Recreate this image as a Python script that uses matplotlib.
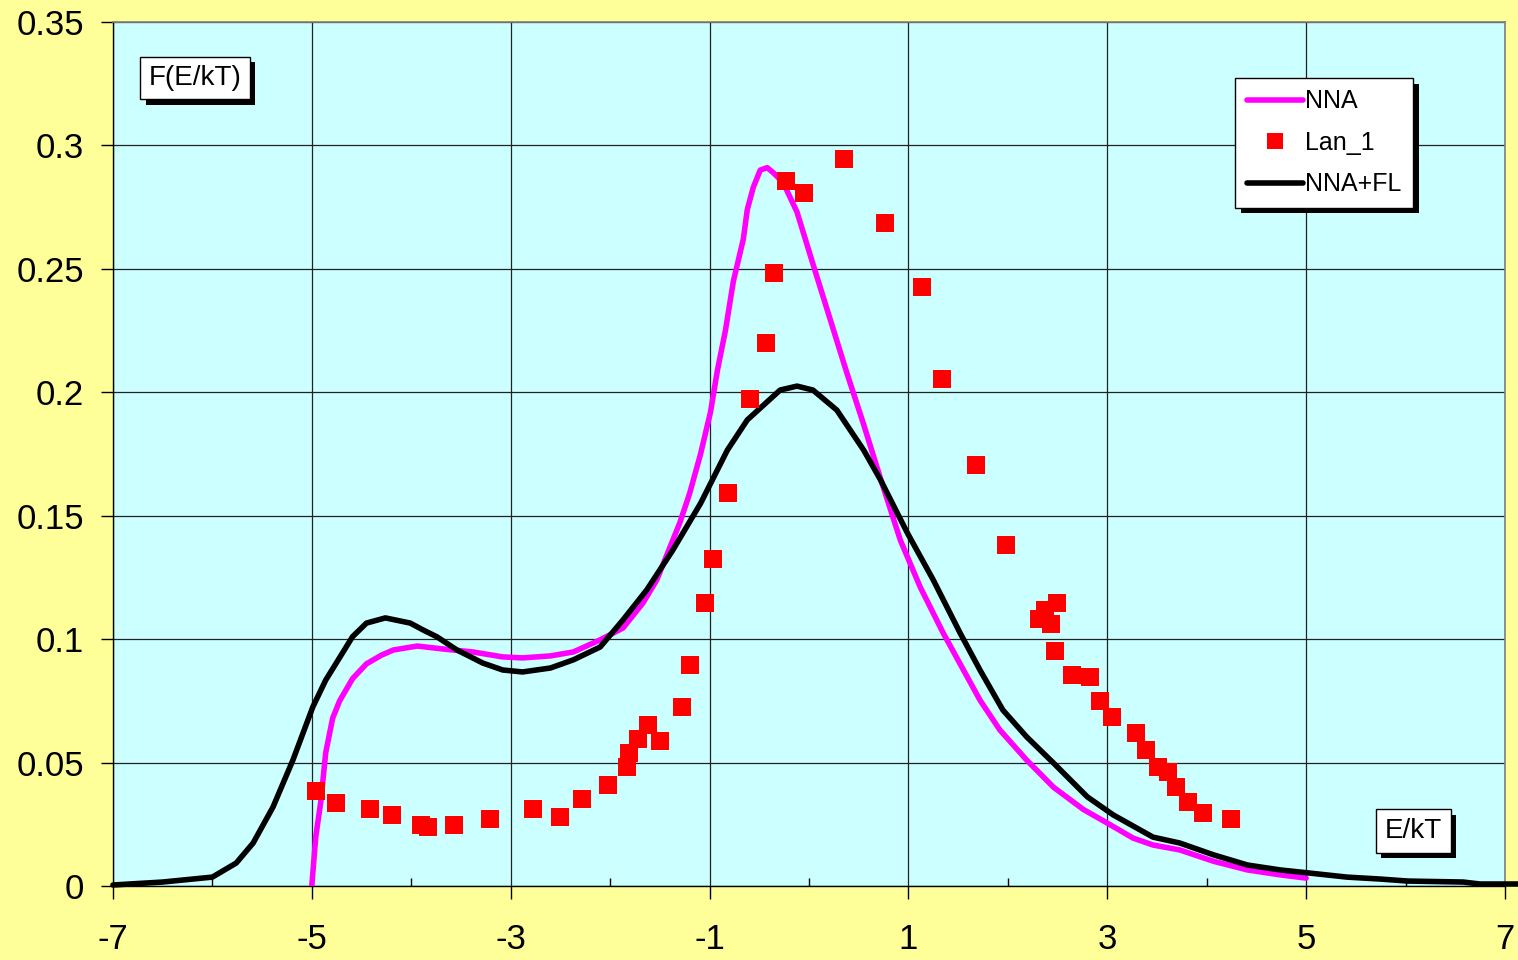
import numpy as np
import matplotlib
matplotlib.use('Agg')
import matplotlib.pyplot as plt
import matplotlib.patheffects as pe
from matplotlib.ticker import FixedLocator, MultipleLocator, FormatStrFormatter

plt.rcParams['font.family'] = ['Liberation Sans', 'DejaVu Sans']

# NNA curve
nna_x = [-5.00, -4.96, -4.91, -4.86, -4.79, -4.72, -4.59, -4.45, -4.30, -4.18,
         -3.94, -3.68, -3.38, -3.08, -2.88, -2.60, -2.37, -2.10, -1.87, -1.67,
         -1.53, -1.30, -1.20, -1.09, -0.99, -0.92, -0.84, -0.76, -0.66, -0.62,
         -0.56, -0.49, -0.42, -0.36, -0.26, -0.12, 0.04, 0.21, 0.38, 0.55,
         0.72, 0.92, 1.12, 1.35, 1.52, 1.72, 1.92, 2.19, 2.46, 2.76,
         3.00, 3.26, 3.46, 3.73, 4.07, 4.41, 4.74, 5.00]
nna_y = [0.0, 0.020, 0.034, 0.054, 0.068, 0.075, 0.084, 0.090, 0.0935, 0.0956,
         0.0972, 0.0960, 0.0948, 0.0928, 0.0924, 0.0932, 0.0948, 0.0997, 0.1045, 0.1146,
         0.124, 0.147, 0.159, 0.175, 0.192, 0.209, 0.225, 0.245, 0.262, 0.274,
         0.283, 0.290, 0.291, 0.289, 0.285, 0.273, 0.252, 0.230, 0.208, 0.187,
         0.165, 0.140, 0.121, 0.1025, 0.090, 0.0753, 0.0632, 0.051, 0.040, 0.031,
         0.0255, 0.0194, 0.0166, 0.0146, 0.0100, 0.0065, 0.0045, 0.0032]

# NNA+FL curve
fl_x = [-7.00, -6.50, -6.00, -5.76, -5.59, -5.39, -5.19, -4.99, -4.86, -4.59,
        -4.45, -4.26, -4.01, -3.88, -3.74, -3.54, -3.28, -3.08, -2.88, -2.60,
        -2.37, -2.10, -1.97, -1.87, -1.63, -1.37, -1.09, -0.82, -0.62, -0.29,
        -0.12, 0.04, 0.28, 0.55, 0.72, 0.99, 1.25, 1.52, 1.72, 1.95,
        2.19, 2.46, 2.80, 3.06, 3.46, 3.73, 4.07, 4.41, 4.74, 5.02,
        5.41, 5.75, 6.02, 6.58, 6.75, 7.13]
fl_y = [0.0004, 0.0016, 0.0036, 0.0093, 0.0174, 0.032, 0.051, 0.0725, 0.0834, 0.101,
        0.1065, 0.1086, 0.1065, 0.1037, 0.1009, 0.0956, 0.0903, 0.0875, 0.0867, 0.0883,
        0.0916, 0.0968, 0.1030, 0.1078, 0.120, 0.136, 0.155, 0.1766, 0.1888, 0.2009,
        0.2025, 0.2009, 0.1928, 0.1766, 0.1645, 0.143, 0.124, 0.1025, 0.0875, 0.0713,
        0.0604, 0.0498, 0.0361, 0.0288, 0.0198, 0.0174, 0.0126, 0.0085, 0.0065, 0.0053,
        0.0036, 0.0028, 0.0020, 0.0016, 0.0008, 0.0008]

# Lan_1 points
lan_x = [-4.96, -4.76, -4.41, -4.19, -3.90, -3.83, -3.57, -3.21, -2.78, -2.50,
         -2.28, -2.02, -1.83, -1.81, -1.72, -1.62, -1.50, -1.28, -1.20, -1.05,
         -0.96, -0.81, -0.59, -0.43, -0.35, -0.23, -0.05, 0.35, 0.76, 1.14,
         1.34, 1.68, 1.98, 2.31, 2.37, 2.43, 2.49, 2.47, 2.65, 2.83,
         2.93, 3.05, 3.29, 3.39, 3.51, 3.61, 3.69, 3.81, 3.96, 4.24]
lan_y = [0.0385, 0.0336, 0.0312, 0.0288, 0.0247, 0.0239, 0.0247, 0.0271, 0.0312, 0.0280,
         0.0352, 0.0409, 0.0482, 0.0539, 0.0595, 0.0652, 0.0587, 0.0725, 0.0895, 0.1146,
         0.1325, 0.1592, 0.1973, 0.2200, 0.2483, 0.2856, 0.2807, 0.2945, 0.2686, 0.2427,
         0.2054, 0.1705, 0.1381, 0.1082, 0.1118, 0.1061, 0.1146, 0.0952, 0.0855, 0.0847,
         0.0749, 0.0685, 0.0620, 0.0551, 0.0482, 0.0462, 0.0401, 0.0340, 0.0296, 0.0271]

x_major = [-7, -5, -3, -1, 1, 3, 5, 7]
x_minor = [-6, -4, -2, 0, 2, 4, 6]

fig = plt.figure(figsize=(15.18, 9.6), dpi=100, facecolor='#FFFF99')
ax = fig.add_axes([0.0744, 0.0771, 0.917, 0.9])
ax.set_facecolor('#CCFFFF')

ax.plot(nna_x, nna_y, color='#FF00FF', lw=4, label='NNA', zorder=3,
        solid_capstyle='round', solid_joinstyle='round')
ax.plot(lan_x, lan_y, 's', color='#FF0000', markersize=13.5, markeredgewidth=0,
        label='Lan_1', zorder=4)
ax.plot(fl_x, fl_y, color='black', lw=4, label='NNA+FL', zorder=3,
        solid_capstyle='round', solid_joinstyle='round', clip_on=False)

ax.set_xlim(-7, 7)
ax.set_ylim(0, 0.35)
ax.xaxis.set_major_locator(FixedLocator(x_major))
ax.xaxis.set_minor_locator(FixedLocator(x_minor))
ax.yaxis.set_major_locator(MultipleLocator(0.05))
ax.yaxis.set_major_formatter(FormatStrFormatter('%g'))
ax.xaxis.set_major_formatter(FormatStrFormatter('%g'))

ax.grid(True, which='major', color='#222222', lw=0.9, zorder=1)
ax.set_axisbelow(True)

ax.tick_params(axis='both', which='major', direction='out', length=9, width=1,
               labelsize=25, color='black')
ax.tick_params(axis='x', which='major', pad=18)
ax.tick_params(axis='y', which='major', pad=12)
ax.tick_params(axis='x', which='minor', direction='in', length=6, width=1)

for side in ['left', 'bottom']:
    ax.spines[side].set_color('black')
    ax.spines[side].set_linewidth(1)
for side in ['top', 'right']:
    ax.spines[side].set_color('#808080')
    ax.spines[side].set_linewidth(1.2)

shadow = [pe.withSimplePatchShadow(offset=(4, -4), shadow_rgbFace='black', alpha=1.0)]

leg = ax.legend(loc='upper right', bbox_to_anchor=(0.934, 0.935), borderaxespad=0,
                fontsize=18, frameon=True, fancybox=False, edgecolor='black',
                framealpha=1, numpoints=1, handlelength=2.25, handletextpad=0.1,
                labelspacing=0.7, borderpad=0.45, markerscale=0.85)
leg.get_frame().set_linewidth(1)
leg.get_frame().set_path_effects(shadow)
leg.set_zorder(10)

t1 = ax.text(0.0589, 0.935, 'F(E/kT)', transform=ax.transAxes, fontsize=20,
             ha='center', va='center', zorder=10,
             bbox=dict(boxstyle='square,pad=0.3', facecolor='white',
                       edgecolor='black', lw=1))
t1.get_bbox_patch().set_path_effects(shadow)

t2 = ax.text(0.934, 0.0637, 'E/kT', transform=ax.transAxes, fontsize=20,
             ha='center', va='center', zorder=10,
             bbox=dict(boxstyle='square,pad=0.32', facecolor='white',
                       edgecolor='black', lw=1))
t2.get_bbox_patch().set_path_effects(shadow)

fig.savefig('out.png', dpi=100, facecolor=fig.get_facecolor())
